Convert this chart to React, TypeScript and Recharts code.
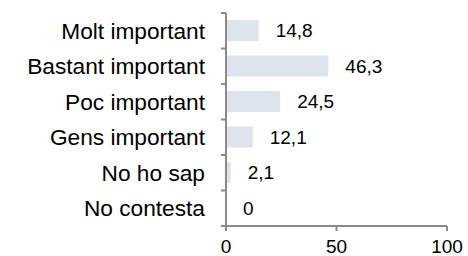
import React from "react";
import { BarChart, Bar, XAxis, YAxis, LabelList } from "recharts";

const categories = [
  "Molt important",
  "Bastant important",
  "Poc important",
  "Gens important",
  "No ho sap",
  "No contesta",
];
const values = [14.8, 46.3, 24.5, 12.1, 2.1, 0];
const xTicks = [0, 50, 100];

const data = categories.map((name, i) => ({ name, value: values[i] }));

const AXIS = "#8a8a8a";
const FONT = "'Liberation Sans', Arial, sans-serif";
const TICK_SIZE = 5;
const TICK_MARGIN = 16;

const CategoryTick = (props: any) => {
  const { x, y, payload, index } = props;
  const half = payload && payload.offset ? payload.offset : 17.75;
  const x1 = x + TICK_MARGIN;
  const x2 = x + TICK_MARGIN + TICK_SIZE;
  return (
    <g>
      <line x1={x1} x2={x2} y1={y - half} y2={y - half} stroke={AXIS} strokeWidth={2} />
      {index === categories.length - 1 && (
        <line x1={x1} x2={x2} y1={y + half} y2={y + half} stroke={AXIS} strokeWidth={2} />
      )}
      <text
        x={x}
        y={y}
        textAnchor="end"
        dominantBaseline="central"
        fontSize={22.7}
        fontFamily={FONT}
        fill="#000"
      >
        {payload.value}
      </text>
    </g>
  );
};

const fmt = (v: any) => String(v).replace(".", ",");

const ValueLabel = (p: any) => {
  const w = Number(p.width || 0);
  const x = Number(p.x) + (w < 1 ? 0 : w) + 17;
  const y = Number(p.y) + Number(p.height || 0) / 2;
  return (
    <text
      x={x}
      y={y}
      textAnchor="start"
      dominantBaseline="central"
      fontSize={19}
      fontFamily={FONT}
      fill="#000"
    >
      {fmt(p.value)}
    </text>
  );
};

const minSize = (v: any) => (Number(v) === 0 ? 0.01 : 0);

export default function App() {
  return (
    <div style={{ position: "absolute", left: 0, top: 0, width: 468, height: 256, background: "#fff" }}>
      <BarChart
        width={468}
        height={256}
        data={data}
        layout="vertical"
        margin={{ top: 13, right: 21, bottom: 0, left: 0 }}
        barCategoryGap="20%"
      >
        <XAxis
          type="number"
          domain={[0, 100]}
          ticks={xTicks}
          height={30}
          tickSize={5}
          tickMargin={9}
          axisLine={{ stroke: AXIS, strokeWidth: 2 }}
          tickLine={{ stroke: AXIS, strokeWidth: 2 }}
          tick={{ fontSize: 19, fontFamily: FONT, fill: "#000" }}
          interval={0}
        />
        <YAxis
          type="category"
          dataKey="name"
          width={226}
          tickSize={TICK_SIZE}
          tickMargin={TICK_MARGIN}
          axisLine={{ stroke: AXIS, strokeWidth: 2 }}
          tickLine={false}
          tick={<CategoryTick />}
          interval={0}
        />
        <Bar dataKey="value" fill="#dde4eb" minPointSize={minSize} isAnimationActive={false}>
          <LabelList dataKey="value" content={<ValueLabel />} />
        </Bar>
      </BarChart>
    </div>
  );
}
